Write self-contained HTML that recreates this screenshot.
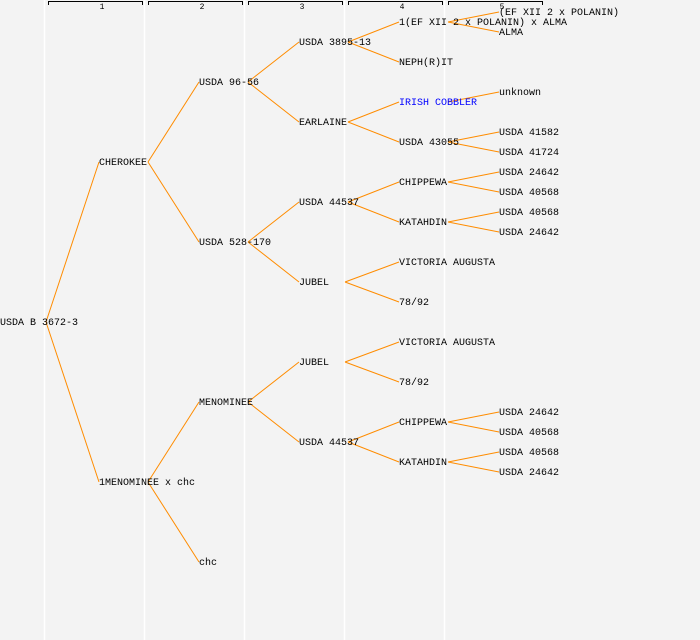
<!DOCTYPE html>
<html><head><meta charset="utf-8"><style>
html,body{margin:0;padding:0;background:#f3f3f3;}
svg{display:block;}
text{font-family:"Liberation Mono","DejaVu Sans Mono",monospace;font-size:10px;fill:#000;}
</style></head><body>
<svg width="700" height="640" xmlns="http://www.w3.org/2000/svg">
<rect width="700" height="640" fill="#f3f3f3"/>
<g stroke="#fff" stroke-width="1.5">
<line x1="44.5" y1="0" x2="44.5" y2="640"/><line x1="144.5" y1="0" x2="144.5" y2="640"/><line x1="244.5" y1="0" x2="244.5" y2="640"/><line x1="344.5" y1="0" x2="344.5" y2="640"/><line x1="444.5" y1="0" x2="444.5" y2="640"/>
</g>
<g stroke="#000" stroke-width="1" fill="none">
<path d="M48.5 5V1.5H142.5V5"/><path d="M148.5 5V1.5H242.5V5"/><path d="M248.5 5V1.5H342.5V5"/><path d="M348.5 5V1.5H442.5V5"/><path d="M448.5 5V1.5H542.5V5"/>
</g>
<g text-anchor="middle">
<text x="102" y="9" style="font-size:8px">1</text><text x="202" y="9" style="font-size:8px">2</text><text x="302" y="9" style="font-size:8px">3</text><text x="402" y="9" style="font-size:8px">4</text><text x="502" y="9" style="font-size:8px">5</text>
</g>
<g stroke="#ff8c00" stroke-width="1" fill="none">
<path d="M46 322L99 162M46 322L99 482"/>
<path d="M148 162L199 82M148 162L199 242M148 482L199 402M148 482L199 562"/>
<path d="M248 82L299 42M248 82L299 122M248 242L299 202M248 242L299 282M248 402L299 362M248 402L299 442"/>
<path d="M348 42L399 22M348 42L399 62M348 122L399 102M348 122L399 142M348 202L399 182M348 202L399 222M345 282L399 262M345 282L399 302M345 362L399 342M345 362L399 382M348 442L399 422M348 442L399 462"/>
<path d="M448 22L499 12M448 22L499 32M448 102L499 92M448 142L499 132M448 142L499 152M448 182L499 172M448 182L499 192M448 222L499 212M448 222L499 232M448 422L499 412M448 422L499 432M448 462L499 452M448 462L499 472"/>
</g>
<g transform="translate(0,-1)">
<text x="0" y="326">USDA B 3672-3</text>
<text x="99" y="166">CHEROKEE</text>
<text x="99" y="486">1MENOMINEE x chc</text>
<text x="199" y="86">USDA 96-56</text>
<text x="199" y="246">USDA 528-170</text>
<text x="199" y="406">MENOMINEE</text>
<text x="199" y="566">chc</text>
<text x="299" y="46">USDA 3895-13</text>
<text x="299" y="126">EARLAINE</text>
<text x="299" y="206">USDA 44537</text>
<text x="299" y="286">JUBEL</text>
<text x="299" y="366">JUBEL</text>
<text x="299" y="446">USDA 44537</text>
<text x="399" y="26">1(EF XII 2 x POLANIN) x ALMA</text>
<text x="399" y="66">NEPH(R)IT</text>
<text x="399" y="106" style="fill:#0000ff">IRISH COBBLER</text>
<text x="399" y="146">USDA 43055</text>
<text x="399" y="186">CHIPPEWA</text>
<text x="399" y="226">KATAHDIN</text>
<text x="399" y="266">VICTORIA AUGUSTA</text>
<text x="399" y="306">78/92</text>
<text x="399" y="346">VICTORIA AUGUSTA</text>
<text x="399" y="386">78/92</text>
<text x="399" y="426">CHIPPEWA</text>
<text x="399" y="466">KATAHDIN</text>
<text x="499" y="16">(EF XII 2 x POLANIN)</text>
<text x="499" y="36">ALMA</text>
<text x="499" y="96">unknown</text>
<text x="499" y="136">USDA 41582</text>
<text x="499" y="156">USDA 41724</text>
<text x="499" y="176">USDA 24642</text>
<text x="499" y="196">USDA 40568</text>
<text x="499" y="216">USDA 40568</text>
<text x="499" y="236">USDA 24642</text>
<text x="499" y="416">USDA 24642</text>
<text x="499" y="436">USDA 40568</text>
<text x="499" y="456">USDA 40568</text>
<text x="499" y="476">USDA 24642</text>
</g>
</svg>
</body></html>
